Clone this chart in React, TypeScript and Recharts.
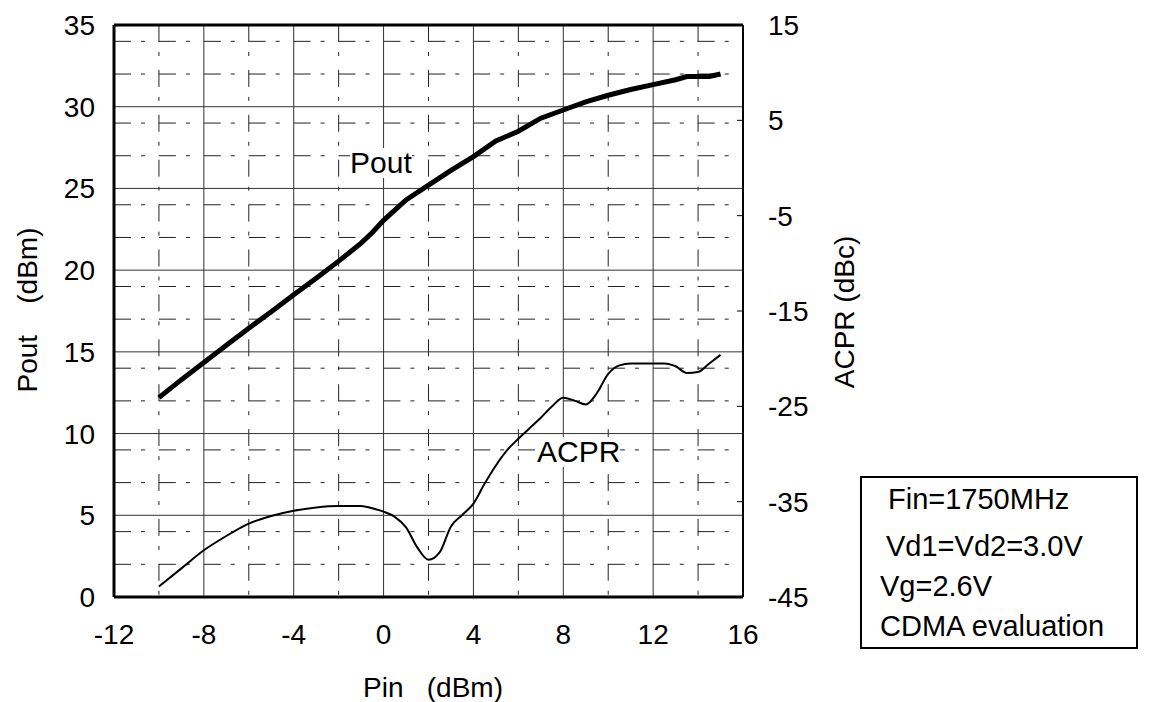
import { CartesianGrid, Line, LineChart, ReferenceLine, XAxis, YAxis } from 'recharts'

// Pin (dBm) -> Pout (dBm)
const pinPout = [-10, -9, -8, -7, -6, -5, -4, -3, -2, -1, -0.5, 0, 1, 2, 3, 4, 5, 6, 7, 8, 9, 10, 11, 12, 13, 13.5, 14, 14.5, 15]
const pout = [12.2, 13.3, 14.35, 15.4, 16.45, 17.45, 18.5, 19.5, 20.55, 21.65, 22.3, 23.05, 24.3, 25.2, 26.1, 26.95, 27.9, 28.5, 29.3, 29.8, 30.3, 30.7, 31.05, 31.35, 31.65, 31.85, 31.85, 31.85, 32.0]

// Pin (dBm) -> ACPR (dBc)
const pinAcpr = [-10, -9, -8, -7, -6, -5, -4, -3, -2, -1, -0.5, 0, 0.5, 1, 1.5, 2, 2.5, 3, 3.5, 4, 4.5, 5, 5.5, 6, 6.5, 7, 7.5, 8, 8.5, 9, 9.5, 10, 10.5, 11, 12, 12.5, 13, 13.5, 14, 14.5, 15]
const acpr = [-43.9, -42.0, -40.1, -38.6, -37.3, -36.5, -35.95, -35.6, -35.45, -35.45, -35.7, -36.05, -36.6, -37.7, -39.8, -41.1, -40.3, -37.6, -36.4, -35.2, -33.1, -31.2, -29.6, -28.4, -27.3, -26.2, -25.0, -24.1, -24.4, -24.8, -23.6, -21.6, -20.7, -20.5, -20.5, -20.5, -20.8, -21.5, -21.4, -20.5, -19.6]

const xTicks = [-12, -8, -4, 0, 4, 8, 12, 16]
const leftTicks = [0, 5, 10, 15, 20, 25, 30, 35]
const rightTicks = [-45, -35, -25, -15, -5, 5, 15]
const xMajor = [-8, -4, 0, 4, 8, 12]
const xMinor = [-10, -6, -2, 2, 6, 10, 14]
const yMajor = [5, 10, 15, 20, 25, 30]
const yMinor = Array.from({ length: 34 }, (_, i) => i + 1).filter(v => v % 5 !== 0)

const boxLines = ['Fin=1750MHz', 'Vd1=Vd2=3.0V', 'Vg=2.6V', 'CDMA evaluation']

const poutData = pinPout.map((x, i) => ({ pin: x, pout: pout[i] }))
const acprData = pinAcpr.map((x, i) => ({ pin: x, acpr: acpr[i] }))

const FONT = '"Liberation Sans", Arial, sans-serif'
const tick = { fill: '#000', fontSize: 28, fontFamily: FONT }

export default function App() {
  return (
    <div style={{ position: 'relative', width: 1148, height: 694, fontFamily: FONT, color: '#000' }}>
      <LineChart width={1148} height={694} margin={{ top: 17, right: 353, bottom: 45, left: 46 }}>
        <XAxis
          dataKey="pin"
          type="number"
          domain={[-12, 16]}
          ticks={xTicks}
          allowDataOverflow
          tick={tick}
          tickLine={false}
          tickSize={8}
          tickMargin={19}
          height={60}
          axisLine={{ stroke: '#000', strokeWidth: 3 }}
        />
        <YAxis
          yAxisId="left"
          domain={[0, 35]}
          ticks={leftTicks}
          allowDataOverflow
          tick={tick}
          tickLine={false}
          tickSize={8}
          tickMargin={11}
          width={60}
          axisLine={{ stroke: '#000', strokeWidth: 3 }}
        />
        <YAxis
          yAxisId="right"
          orientation="right"
          domain={[-45, 15]}
          ticks={rightTicks}
          allowDataOverflow
          tick={{ ...tick, textAnchor: 'start' }}
          tickLine={{ stroke: '#000', strokeWidth: 1 }}
          tickSize={-6}
          tickMargin={31}
          width={60}
          axisLine={{ stroke: '#000', strokeWidth: 2 }}
        />
        <CartesianGrid
          yAxisId="left"
          horizontalValues={yMinor}
          verticalValues={xMinor}
          stroke="#222"
          strokeDasharray="17 10 4 13.9"
        />
        <CartesianGrid
          yAxisId="left"
          horizontalValues={yMajor}
          verticalValues={xMajor}
          stroke="#333"
        />
        <ReferenceLine yAxisId="left" y={35} stroke="#000" strokeWidth={3} />
        <Line
          yAxisId="left"
          data={poutData}
          dataKey="pout"
          type="linear"
          stroke="#000"
          strokeWidth={5}
          dot={false}
          isAnimationActive={false}
        />
        <Line
          yAxisId="right"
          data={acprData}
          dataKey="acpr"
          type="monotone"
          stroke="#000"
          strokeWidth={2}
          dot={false}
          isAnimationActive={false}
        />
      </LineChart>

      <div style={{ position: 'absolute', left: 19.5, top: 302, transform: 'translate(-50%, -50%) rotate(-90deg)', fontSize: 28, whiteSpace: 'pre', lineHeight: 1 }}>
        {'Pout    (dBm)'}
      </div>
      <div style={{ position: 'absolute', left: 837, top: 304, transform: 'translate(-50%, -50%) rotate(-90deg)', fontSize: 28, whiteSpace: 'pre', lineHeight: 1 }}>
        {'ACPR (dBc)'}
      </div>
      <div style={{ position: 'absolute', left: 425, top: 680, transform: 'translate(-50%, -50%)', fontSize: 28, whiteSpace: 'pre', lineHeight: 1 }}>
        {'Pin   (dBm)'}
      </div>

      <div style={{ position: 'absolute', left: 342, top: 140, fontSize: 30, lineHeight: 1, background: '#fff' }}>Pout</div>
      <div style={{ position: 'absolute', left: 529, top: 429, fontSize: 30, lineHeight: 1, background: '#fff' }}>ACPR</div>

      <div style={{ position: 'absolute', left: 852, top: 468, width: 278, height: 173, border: '2px solid #000', boxSizing: 'border-box' }}>
        {boxLines.map((t, i) => (
          <div
            key={t}
            style={{ position: 'absolute', left: [26, 24, 18, 18][i], top: [7, 54, 94, 134][i], fontSize: 29, lineHeight: 1, whiteSpace: 'nowrap' }}
          >
            {t}
          </div>
        ))}
      </div>
    </div>
  )
}
